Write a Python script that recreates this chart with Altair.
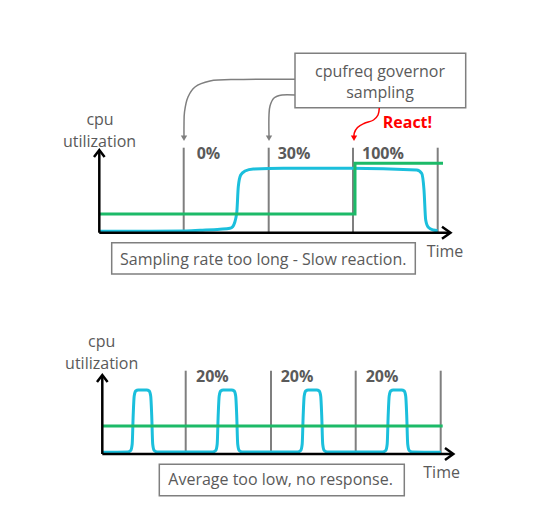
import altair as alt
import pandas as pd

W, H = 549, 531
FONT = "Open Sans"
TXT = "#5a5a5a"
GRAY = "#7f7f7f"
CYAN = "#1bbfdc"
GREEN = "#1cba68"

# ---------------- data ----------------
# top panel: cpu utilization (cyan)
top_cpu_x = [99.3, 150, 183.7, 200, 220, 230, 232.7, 236.7, 238.3, 240.7, 245, 253.3,
             283.3, 350, 416.7, 421.7, 424, 425.7, 428.3, 433.3, 437.7]
top_cpu_y = [231.3, 231.3, 231, 230.3, 229.3, 228.3, 226.7, 213.3, 186.7, 175, 171, 169,
             168.3, 168.3, 170, 173.3, 190, 220, 227.3, 230, 230.7]
# top panel: cpu frequency (green)
top_freq_x = [99.3, 355, 355, 443]
top_freq_y = [214, 214, 163.3, 163.3]

# bottom panel: cpu utilization pulses (cyan)
bot_cpu_x = [102.3,
             127.7, 130.7, 132.2, 133.2, 134.2, 135.7, 138.2, 146.7, 149.2, 150.7, 151.7, 152.7, 154.2, 157.2,
             212.7, 215.7, 217.2, 218.2, 219.2, 220.7, 223.2, 231.7, 234.2, 235.7, 236.7, 237.7, 239.2, 242.2,
             297.7, 300.7, 302.2, 303.2, 304.2, 305.7, 308.2, 316.7, 319.2, 320.7, 321.7, 322.7, 324.2, 327.2,
             382.7, 385.7, 387.2, 388.2, 389.2, 390.7, 393.2, 401.7, 404.2, 405.7, 406.7, 407.7, 409.2, 412.2,
             441]
bot_cpu_y = [452.3,
             452, 450.5, 444, 415, 396, 391, 390, 390, 391, 396, 415, 444, 450.5, 452,
             452, 450.5, 444, 415, 396, 391, 390, 390, 391, 396, 415, 444, 450.5, 452,
             452, 450.5, 444, 415, 396, 391, 390, 390, 391, 396, 415, 444, 450.5, 452,
             452, 450.5, 444, 415, 396, 391, 390, 390, 391, 396, 415, 444, 450.5, 452,
             452.3]
bot_freq_x = [102.3, 442.7]
bot_freq_y = [426, 426]

# sampling marks (vertical gray lines)
samp_x = [183.7, 268.7, 353, 437.7, 185.7, 271, 355.7, 440.7]
samp_y1 = [147.7, 147.7, 147.7, 147.7, 370.7, 370.7, 370.7, 370.7]
samp_y2 = [232.7, 232.7, 232.7, 232.7, 454, 454, 454, 454]

# axes
axis_x1 = [99.3, 99.3, 102.3, 102.3]
axis_y1 = [150, 232.7, 375, 454]
axis_x2 = [99.3, 450, 102.3, 453]
axis_y2 = [232.7, 232.7, 454, 454]
# arrow heads (chevrons)
chev_id = [0, 0, 0, 1, 1, 1, 2, 2, 2, 3, 3, 3]
chev_x = [94, 99.3, 104.6, 442, 450.5, 442, 97, 102.3, 107.6, 445, 453.3, 445]
chev_y = [157, 150, 157, 226.7, 232.7, 238.7, 382, 375, 382, 448, 454, 460]

# percentage labels
pct_text = ["0%", "30%", "100%", "20%", "20%", "20%"]
pct_x = [196.7, 277.7, 362, 196, 280.7, 365.7]
pct_y = [154, 154, 154, 376.7, 376.7, 376.7]

# centered texts
ctr_text = ["cpu", "utilization", "cpufreq governor", "sampling", "cpu", "utilization"]
ctr_x = [100, 99.5, 380, 380, 101.7, 101.7]
ctr_y = [120, 141.7, 71.7, 93.3, 341.7, 364]

# left aligned texts
left_text = ["Sampling rate too long - Slow reaction.", "Time",
             "Average too low, no response.", "Time"]
left_x = [120, 426.7, 168.3, 423.3]
left_y = [259.5, 251.7, 480, 473.3]

# boxes
box_x1 = [295, 111.7, 159.3]
box_x2 = [465.7, 415.3, 404.3]
box_y1 = [53.3, 242.7, 464.3]
box_y2 = [107.7, 274, 495.7]

# curved annotation arrows
gray_arrow_id = [0] * 8 + [1] * 6
gray_arrow_x = [295, 240, 210, 195, 188, 184.5, 184, 184,
                295, 282, 274, 270, 269, 269]
gray_arrow_y = [79.3, 79.5, 81, 87, 97, 112, 125, 136,
                95, 95, 98, 106, 115, 136]
gray_head_x = [184, 269]
gray_head_y = [138.3, 138.3]
red_arrow_x = [379.3, 378, 373.5, 364, 357.5, 354.3, 354]
red_arrow_y = [108, 115, 120, 123.5, 127.5, 133, 137]
red_head_x = [354]
red_head_y = [138.3]

# ---------------- helpers ----------------
XS = alt.Scale(domain=[0, W], range=[0, W], nice=False, zero=False)
YS = alt.Scale(domain=[0, H], range=[0, H], nice=False, zero=False)


def xe(f="x"):
    return alt.X(f"{f}:Q", scale=XS, axis=None)


def ye(f="y"):
    return alt.Y(f"{f}:Q", scale=YS, axis=None)


def series(xs, ys, gid=0):
    return pd.DataFrame({"x": xs, "y": ys, "i": list(range(len(xs))), "g": [gid] * len(xs)})


# ---------------- layers ----------------
samp = alt.Chart(pd.DataFrame({"x": samp_x, "y": samp_y1, "y2": samp_y2})).mark_rule(
    color=GRAY, strokeWidth=2).encode(x=xe(), y=ye(), y2="y2:Q")

cyan_df = pd.concat([series(top_cpu_x, top_cpu_y, 0), series(bot_cpu_x, bot_cpu_y, 1)])
cyan = alt.Chart(cyan_df).mark_line(color=CYAN, strokeWidth=3, interpolate="monotone").encode(
    x=xe(), y=ye(), order="i:Q", detail="g:N")

green_df = pd.concat([series(top_freq_x, top_freq_y, 0), series(bot_freq_x, bot_freq_y, 1)])
green = alt.Chart(green_df).mark_line(color=GREEN, strokeWidth=3).encode(
    x=xe(), y=ye(), order="i:Q", detail="g:N")

axes = alt.Chart(pd.DataFrame({"x": axis_x1, "y": axis_y1, "x2": axis_x2, "y2": axis_y2})).mark_rule(
    color="black", strokeWidth=2.5).encode(x=xe(), y=ye(), x2="x2:Q", y2="y2:Q")

chev = alt.Chart(pd.DataFrame({"x": chev_x, "y": chev_y, "g": chev_id,
                               "i": list(range(len(chev_x)))})).mark_line(
    color="black", strokeWidth=2.5).encode(x=xe(), y=ye(), order="i:Q", detail="g:N")

boxes = alt.Chart(pd.DataFrame({"x": box_x1, "x2": box_x2, "y": box_y1, "y2": box_y2})).mark_rect(
    fill="white", fillOpacity=0, stroke=GRAY, strokeWidth=1.5).encode(
    x=xe(), x2="x2:Q", y=ye(), y2="y2:Q")

garrow_df = pd.DataFrame({"x": gray_arrow_x, "y": gray_arrow_y, "g": gray_arrow_id,
                          "i": list(range(len(gray_arrow_x)))})
garrow = alt.Chart(garrow_df).mark_line(color=GRAY, strokeWidth=1.5, interpolate="catmull-rom").encode(
    x=xe(), y=ye(), order="i:Q", detail="g:N")
ghead = alt.Chart(pd.DataFrame({"x": gray_head_x, "y": gray_head_y})).mark_point(
    shape="triangle-down", filled=True, color=GRAY, size=40, opacity=1).encode(x=xe(), y=ye())

rarrow = alt.Chart(series(red_arrow_x, red_arrow_y)).mark_line(
    color="#ff0000", strokeWidth=1.5, interpolate="catmull-rom").encode(x=xe(), y=ye(), order="i:Q")
rhead = alt.Chart(pd.DataFrame({"x": red_head_x, "y": red_head_y})).mark_point(
    shape="triangle-down", filled=True, color="#ff0000", size=40, opacity=1).encode(x=xe(), y=ye())

pct = alt.Chart(pd.DataFrame({"x": pct_x, "y": pct_y, "t": pct_text})).mark_text(
    font=FONT, fontSize=16, fontWeight="bold", color=TXT, align="left", baseline="middle").encode(
    x=xe(), y=ye(), text="t:N")

ctr = alt.Chart(pd.DataFrame({"x": ctr_x, "y": ctr_y, "t": ctr_text})).mark_text(
    font=FONT, fontSize=16, color=TXT, align="center", baseline="middle").encode(
    x=xe(), y=ye(), text="t:N")

left = alt.Chart(pd.DataFrame({"x": left_x, "y": left_y, "t": left_text})).mark_text(
    font=FONT, fontSize=16, color=TXT, align="left", baseline="middle").encode(
    x=xe(), y=ye(), text="t:N")

react = alt.Chart(pd.DataFrame({"x": [382.7], "y": [122.7], "t": ["React!"]})).mark_text(
    font=FONT, fontSize=16, fontWeight="bold", color="#ff0000", align="left", baseline="middle").encode(
    x=xe(), y=ye(), text="t:N")

chart = alt.layer(samp, cyan, green, axes, chev, boxes, garrow, ghead, rarrow, rhead,
                  pct, ctr, left, react).properties(
    width=W, height=H, padding=0, autosize=alt.AutoSizeParams(type="none"),
    background="white").configure_view(stroke=None)

chart.save("out.html", embed_options={"renderer": "svg", "actions": False})
